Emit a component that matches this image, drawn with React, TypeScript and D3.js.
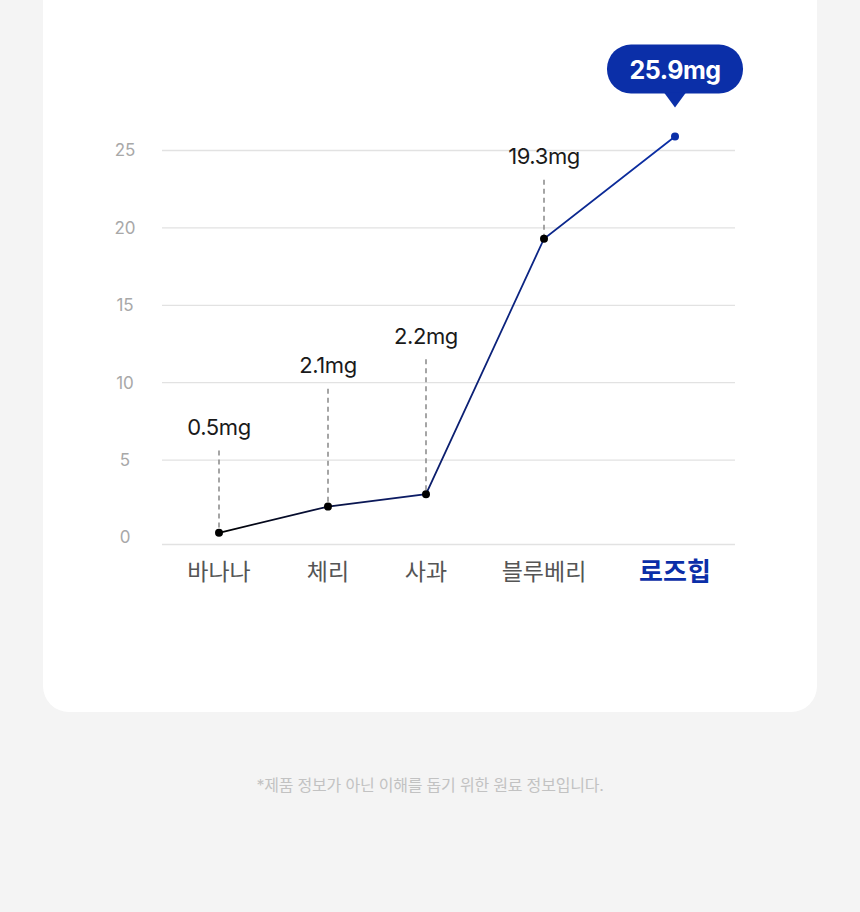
import React, { useEffect, useRef } from 'react';
import * as d3 from 'd3';

const categories = ['바나나', '체리', '사과', '블루베리', '로즈힙'];
const values = [0.3, 2.0, 2.8, 19.3, 25.9];
const valueLabels = ['0.5mg', '2.1mg', '2.2mg', '19.3mg', '25.9mg'];
// height (in mg units) where each callout label sits
const labelLevels = [7.1, 11.1, 13.0, 24.6];
const yTicks = [0, 5, 10, 15, 20, 25];
const footnote = '*제품 정보가 아닌 이해를 돕기 위한 원료 정보입니다.';

const W = 860;
const H = 912;
const xStops = [219, 328, 426, 544, 675];
const BLUE = '#0b2fa8';
const FONT = "Inter, 'Noto Sans CJK KR', sans-serif";

export default function App() {
  const ref = useRef<SVGSVGElement>(null);

  useEffect(() => {
    if (!ref.current) return;
    const svg = d3.select(ref.current);
    svg.selectAll('*').remove();

    svg.append('rect').attr('width', W).attr('height', H).attr('fill', '#f4f4f4');

    // card
    svg.append('rect')
      .attr('x', 43).attr('y', -40)
      .attr('width', 774).attr('height', 752)
      .attr('rx', 26)
      .attr('fill', '#fff');

    const x = d3.scaleOrdinal<string, number>().domain(categories).range(xStops);
    const y = d3.scaleLinear().domain([0, 25]).range([537.5, 150.5]);

    const defs = svg.append('defs');
    const grad = defs.append('linearGradient')
      .attr('id', 'lineGrad')
      .attr('gradientUnits', 'userSpaceOnUse')
      .attr('x1', xStops[0]).attr('x2', xStops[4])
      .attr('y1', 0).attr('y2', 0);
    grad.append('stop').attr('offset', '0%').attr('stop-color', '#000');
    grad.append('stop').attr('offset', '35%').attr('stop-color', '#0c1a5e');
    grad.append('stop').attr('offset', '100%').attr('stop-color', BLUE);

    // grid
    const grid = svg.append('g');
    yTicks.forEach(t => {
      const gy = t === 0 ? y(0) + 7 : y(t);
      grid.append('line')
        .attr('x1', 162).attr('x2', 735)
        .attr('y1', gy).attr('y2', gy)
        .attr('stroke', '#e2e2e2').attr('stroke-width', 1.3);
      grid.append('text')
        .attr('x', 125).attr('y', y(t))
        .attr('dy', '0.35em')
        .attr('text-anchor', 'middle')
        .attr('font-family', FONT)
        .attr('font-size', 17)
        .attr('fill', '#a8a8a8')
        .text(t);
    });

    // dashed callouts
    labelLevels.forEach((lv, i) => {
      const cx = x(categories[i]);
      svg.append('line')
        .attr('x1', cx).attr('x2', cx)
        .attr('y1', y(lv) + 23).attr('y2', y(values[i]))
        .attr('stroke', '#888').attr('stroke-width', 1.5)
        .attr('stroke-dasharray', '5,4');
      svg.append('text')
        .attr('x', cx).attr('y', y(lv))
        .attr('dy', '0.35em')
        .attr('text-anchor', 'middle')
        .attr('font-family', FONT)
        .attr('font-size', 22)
        .attr('letter-spacing', -0.4)
        .attr('fill', '#1a1a1a')
        .text(valueLabels[i]);
    });

    const line = d3.line<number>()
      .x((_, i) => x(categories[i]))
      .y(d => y(d));

    svg.append('path')
      .datum(values)
      .attr('d', line)
      .attr('fill', 'none')
      .attr('stroke', 'url(#lineGrad)')
      .attr('stroke-width', 1.8);

    svg.selectAll('.dot')
      .data(values)
      .enter().append('circle')
      .attr('cx', (_, i) => x(categories[i]))
      .attr('cy', d => y(d))
      .attr('r', 4)
      .attr('fill', (_, i) => (i === values.length - 1 ? BLUE : '#000'));

    // bubble for the last point
    const last = values.length - 1;
    const bx = x(categories[last]);
    const tipY = y(values[last]) - 29;
    const bw = 136, bh = 49;
    const bTop = tipY - 14 - bh;
    const bubble = svg.append('g');
    bubble.append('rect')
      .attr('x', bx - bw / 2).attr('y', bTop)
      .attr('width', bw).attr('height', bh)
      .attr('rx', 24)
      .attr('fill', BLUE);
    bubble.append('path')
      .attr('d', `M${bx - 11},${bTop + bh - 1} L${bx},${tipY} L${bx + 11},${bTop + bh - 1} Z`)
      .attr('fill', BLUE);
    bubble.append('text')
      .attr('x', bx).attr('y', bTop + bh / 2 + 1)
      .attr('dy', '0.35em')
      .attr('text-anchor', 'middle')
      .attr('font-family', FONT)
      .attr('font-size', 25)
      .attr('font-weight', 700)
      .attr('letter-spacing', -0.5)
      .attr('fill', '#fff')
      .text(valueLabels[last]);

    // category labels
    categories.forEach((c, i) => {
      const isLast = i === last;
      svg.append('text')
        .attr('x', x(c)).attr('y', 572)
        .attr('dy', '0.35em')
        .attr('text-anchor', 'middle')
        .attr('font-family', FONT)
        .attr('font-size', isLast ? 26 : 23)
        .attr('font-weight', isLast ? 700 : 400)
        .attr('fill', isLast ? BLUE : '#555')
        .text(c);
    });

    svg.append('text')
      .attr('x', 430).attr('y', 785)
      .attr('dy', '0.35em')
      .attr('text-anchor', 'middle')
      .attr('font-family', FONT)
      .attr('font-size', 16)
      .attr('letter-spacing', -0.2)
      .attr('fill', '#c2c2c2')
      .text(footnote);
  }, []);

  return (
    <div style={{ position: 'absolute', left: 0, top: 0 }}>
      <svg ref={ref} width={W} height={H} style={{ display: 'block' }} />
    </div>
  );
}
